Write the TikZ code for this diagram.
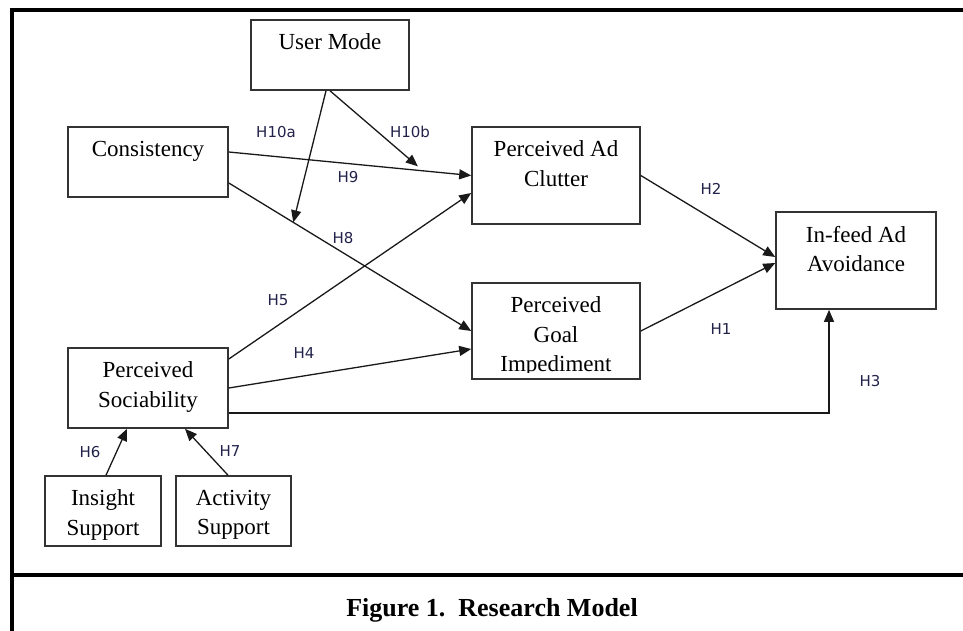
\documentclass[tikz,border=0pt]{standalone}
\usepackage{fontspec}
\setmainfont{Liberation Serif}
\newfontfamily\hlabelfont{DejaVu Sans}
\usetikzlibrary{arrows.meta,calc}
\definecolor{boxline}{HTML}{333333}
\definecolor{hypcol}{HTML}{22224A}
\tikzset{
  construct/.style={draw=boxline,line width=1.6pt,rectangle,inner sep=0pt},
  ctext/.style={anchor=north,align=center,inner sep=0pt,text=black,
    font=\fontsize{23}{29.5}\selectfont},
  hyp/.style={text=hypcol,inner sep=0pt,font=\hlabelfont\fontsize{15}{18}\selectfont},
  link/.style={draw=black!90,line width=1.3pt,-{Triangle[length=12pt,width=10pt]}},
}
\begin{document}
\begin{tikzpicture}[x=1pt,y=-1pt]
\useasboundingbox (0,0) rectangle (963,631);

% outer frame and caption rule
\draw[line width=3.5pt] (12,631) -- (12,10) -- (963,10);
\draw[line width=3.5pt] (12,575) -- (963,575);

% constructs
\node[construct,minimum width=158pt,minimum height=70pt] (um)   at (330,55)    {};
\node[construct,minimum width=160pt,minimum height=70pt] (cons) at (148,162)   {};
\node[construct,minimum width=168pt,minimum height=97pt] (clut) at (556,175.5) {};
\node[construct,minimum width=168pt,minimum height=96pt] (goal) at (556,331)   {};
\node[construct,minimum width=160pt,minimum height=97pt] (ifa)  at (856,260.5) {};
\node[construct,minimum width=160pt,minimum height=80pt] (soc)  at (148,388)   {};
\node[construct,minimum width=116pt,minimum height=70pt] (ins)  at (103,511)   {};
\node[construct,minimum width=115pt,minimum height=70pt] (act)  at (233.5,511) {};

% construct names, set from the top of each box
\node[ctext] (umt)   at ([yshift=-14.5pt]um.north)   {User Mode};
\node[ctext] (const) at ([yshift=-14.5pt]cons.north) {Consistency};
\node[ctext] (clutt) at ([yshift=-14.5pt]clut.north) {Perceived Ad\\Clutter};
\node[ctext] (ifat)  at ([yshift=-14.5pt]ifa.north)  {In-feed Ad\\Avoidance};
\node[ctext] (soct)  at ([yshift=-14.5pt]soc.north)  {Perceived\\Sociability};
\node[ctext] (inst)  at ([yshift=-14.5pt]ins.north)  {Insight\\Support};
\node[ctext] (actt)  at ([yshift=-14.5pt]act.north)  {Activity\\Support};
\begin{scope}
  \clip (goal.north west) rectangle ([yshift=7pt]goal.south east);
  \node[ctext] (goalt) at ([yshift=-14.5pt]goal.north) {Perceived\\Goal\\Impediment};
\end{scope}

% paths between constructs
\coordinate (h9s) at ([yshift=10pt]cons.east);
\coordinate (h8s) at ([yshift=-21pt]cons.east);
\coordinate (h8m) at ($(h8s)!0.266!(goal.west)$);
\coordinate (h9m) at ($(h9s)!0.78!(clut.west)$);

\draw[link] (h9s) -- (clut.west);
\draw[link] (h8s) -- (goal.west);
\draw[link] ([xshift=-4pt]um.south) -- (h8m);
\draw[link] (um.south) -- ([yshift=4pt]h9m);
\draw[link] ([yshift=29pt]soc.east) -- ([yshift=-17.5pt]clut.west);
\draw[link] (soc.east) -- ([yshift=-18pt]goal.west);
\draw[link] ([yshift=-25pt]soc.east) -| ([xshift=-27pt]ifa.south);
\draw[link] (clut.east) -- ([yshift=3.5pt]ifa.west);
\draw[link] (goal.east) -- ([yshift=-2.5pt]ifa.west);
\draw[link] ([xshift=3pt]ins.north) -- ([xshift=-21pt]soc.south);
\draw[link] ([xshift=-5.5pt]act.north) -- ([xshift=37pt]soc.south);

% hypothesis labels
\node[hyp] (l10a) at (276,132) {H10a};
\node[hyp] (l10b) at (410,132) {H10b};
\node[hyp] (l9)   at (348,177) {H9};
\node[hyp] (l8)   at (343,238) {H8};
\node[hyp] (l5)   at (278,300) {H5};
\node[hyp] (l4)   at (304,353) {H4};
\node[hyp] (l2)   at (711,189) {H2};
\node[hyp] (l1)   at (721,329) {H1};
\node[hyp] (l3)   at (870,381) {H3};
\node[hyp] (l6)   at (90,452)  {H6};
\node[hyp] (l7)   at (230,451) {H7};

% caption
\node[anchor=base,inner sep=0pt,font=\bfseries\fontsize{26}{30}\selectfont] (cap)
  at (492,616) {Figure 1.\ \ Research\ Model};
\end{tikzpicture}
\end{document}
